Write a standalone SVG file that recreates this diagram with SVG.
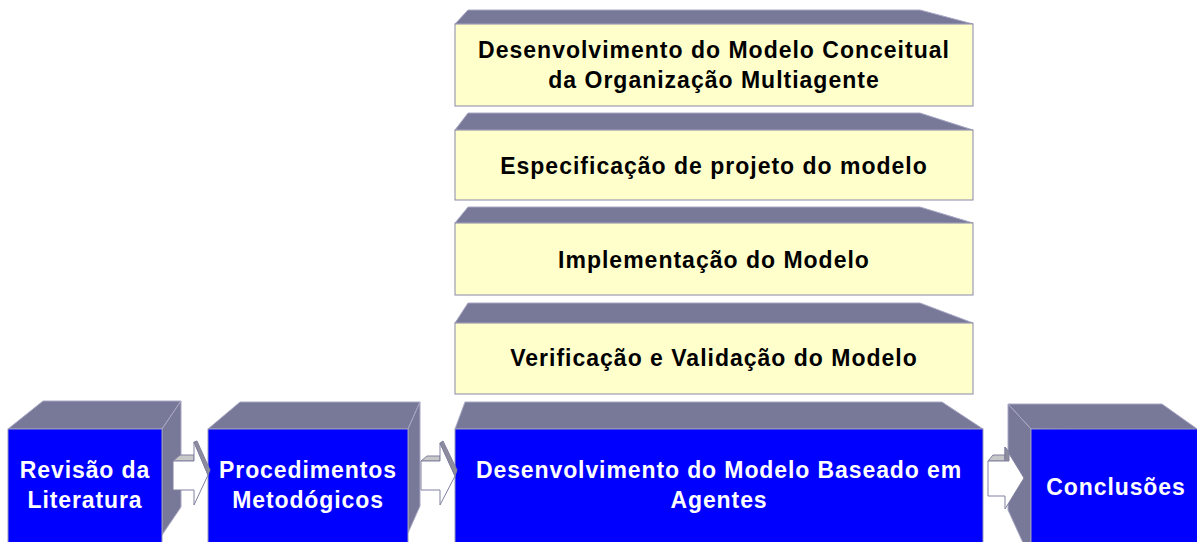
<svg xmlns="http://www.w3.org/2000/svg" width="1197" height="542" viewBox="0 0 1197 542">
<style>
.top{fill:#787898;stroke:#A8A8C4;stroke-width:1}
.side{fill:#787898;stroke:#A8A8C4;stroke-width:1}
.blue{fill:#0000FF;stroke:#9A9AB8;stroke-width:1}
.yel{fill:#FFFFCC;stroke:#8888A8;stroke-width:1}
.wt{font-family:"Liberation Sans",Arial,sans-serif;font-weight:bold;font-size:23px;fill:#FFFFFF;text-anchor:middle;letter-spacing:0.9px}
.bt{font-family:"Liberation Sans",Arial,sans-serif;font-weight:bold;font-size:23px;fill:#000000;text-anchor:middle;letter-spacing:1px}
.aw{fill:#FFFFFF;stroke:#8080A0;stroke-width:1}
.al{fill:#C8C8C8;stroke:#8080A0;stroke-width:1}
.ad{fill:#8C8C9C;stroke:#8080A0;stroke-width:1}
</style>
<rect width="1197" height="542" fill="#FFFFFF"/>
<g id="slab1">
<polygon class="top" points="455,24 468,10 920,10 973,24"/>
<rect class="yel" x="455" y="24" width="518" height="82"/>
<text class="bt" x="714" y="58">Desenvolvimento do Modelo Conceitual</text>
<text class="bt" x="714" y="88">da Organização Multiagente</text>
</g>
<g id="slab2">
<polygon class="top" points="455,130 468,113 920,113 973,130"/>
<rect class="yel" x="455" y="130" width="518" height="70"/>
<text class="bt" x="714" y="174">Especificação de projeto do modelo</text>
</g>
<g id="slab3">
<polygon class="top" points="455,223 468,207 920,207 973,223"/>
<rect class="yel" x="455" y="223" width="518" height="72"/>
<text class="bt" x="714" y="268">Implementação do Modelo</text>
</g>
<g id="slab4">
<polygon class="top" points="455,323 468,303 920,303 973,323"/>
<rect class="yel" x="455" y="323" width="518" height="71"/>
<text class="bt" x="714" y="366">Verificação e Validação do Modelo</text>
</g>
<g id="revisao">
<polygon class="top" points="8,429 43,401 181,401 162,429"/>
<polygon class="side" points="162,429 181,401 181,507 162,535"/>
<rect class="blue" x="8" y="429" width="154" height="120"/>
<text class="wt" x="85" y="478">Revisão da</text>
<text class="wt" x="85" y="508">Literatura</text>
</g>
<g id="procedimentos">
<polygon class="top" points="208,429 240,402 420,402 408,429"/>
<polygon class="side" points="408,429 420,402 420,506 408,533"/>
<rect class="blue" x="208" y="429" width="200" height="120"/>
<text class="wt" x="308" y="478">Procedimentos</text>
<text class="wt" x="308" y="508">Metodógicos</text>
</g>
<g id="desenvolvimento">
<polygon class="top" points="455,429 465,402 942,402 983,429"/>
<rect class="blue" x="455" y="429" width="528" height="120"/>
<text class="wt" x="719" y="478">Desenvolvimento do Modelo Baseado em</text>
<text class="wt" x="719" y="508">Agentes</text>
</g>
<g id="conclusoes">
<polygon class="top" points="1031,429 1008,404 1162,404 1200,431"/>
<polygon class="side" points="1008,404 1031,429 1031,545 1024,545 1008,510"/>
<rect class="blue" x="1031" y="429" width="170" height="120"/>
<text class="wt" x="1116" y="495">Conclusões</text>
</g>
<g id="connectors">
<g id="arrow1">
<polygon class="al" points="173,461 180,455 194,455 194,461"/>
<polygon class="aw" points="173,461 194,461 194,442 208,475 194,505 194,490 173,490"/>
<polygon class="ad" points="194,442 197,441 210,470 208,475"/>
</g>
<g id="arrow2">
<polygon class="al" points="421,461 427,456 440,456 440,461"/>
<polygon class="aw" points="421,461 440,461 440,443 455,476 440,505 440,490 421,490"/>
<polygon class="ad" points="440,443 443,441 457,470 455,476"/>
</g>
<g id="arrow3">
<polygon class="al" points="988,461 993,455 1005,455 1005,461"/>
<polygon class="aw" points="988,461 1005,461 1005,447 1024,478 1005,509 1005,496 988,496"/>
<polygon class="ad" points="1005,447 1009,452 1009,461 1005,461"/>
</g>
</g>
</svg>
